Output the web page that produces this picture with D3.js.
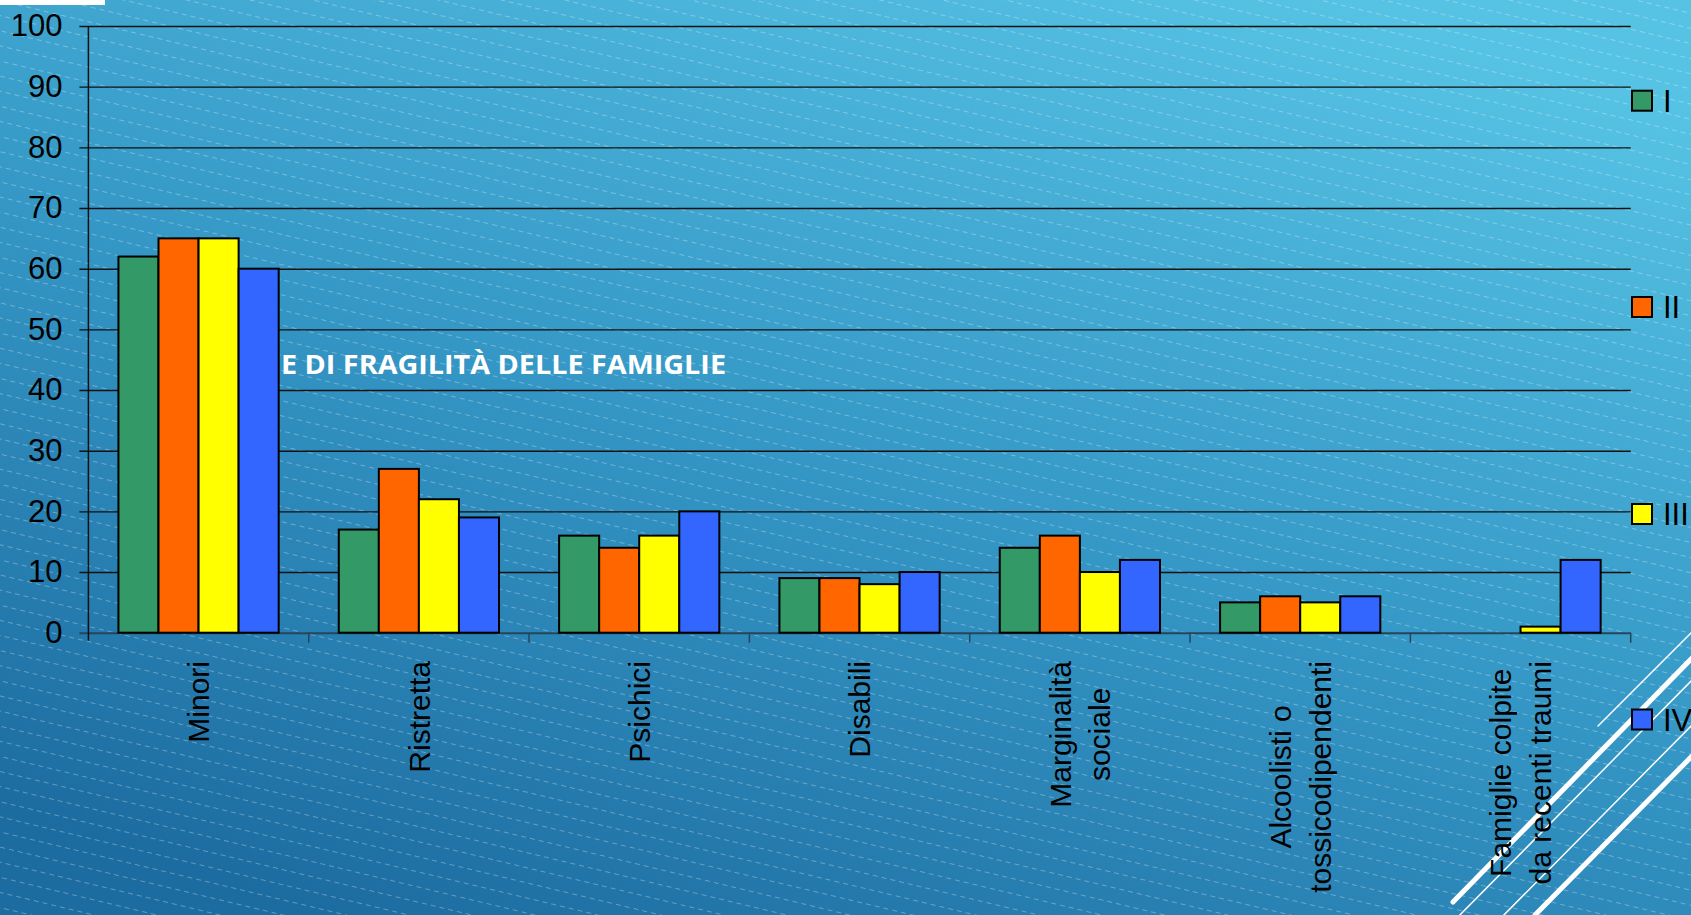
<!DOCTYPE html>
<html><head><meta charset="utf-8">
<script src="https://cdn.jsdelivr.net/npm/d3@7"></script>
<style>html,body{margin:0;padding:0;overflow:hidden;background:#2f8fbf}</style>
</head><body>
<svg id="c" width="1691" height="915"></svg>
<script>
const categories = ["Minori","Ristretta","Psichici","Disabili","Marginalità\nsociale","Alcoolisti o\ntossicodipendenti","Famiglie colpite\nda recenti traumi"];
const seriesNames = ["I","II","III","IV"];
const seriesI   = [62,17,16,9,14,5,0];
const seriesII  = [65,27,14,9,16,6,0];
const seriesIII = [65,22,16,8,10,5,1];
const seriesIV  = [60,19,20,10,12,6,12];
const yTicks = [0,10,20,30,40,50,60,70,80,90,100];
const colors = ["#339966","#FF6600","#FFFF00","#3366FF"];
const titleText = "E DI FRAGILITÀ DELLE FAMIGLIE";

const W = 1691, H = 915;
const svg = d3.select("#c");
const defs = svg.append("defs");
const grad = defs.append("linearGradient").attr("id","bg")
  .attr("x1","0.8").attr("y1","0").attr("x2","0.2").attr("y2","1");
grad.append("stop").attr("offset","0").attr("stop-color","#56c3e4");
grad.append("stop").attr("offset","0.5").attr("stop-color","#3598c6");
grad.append("stop").attr("offset","1").attr("stop-color","#1d6ca1");
const pat = defs.append("pattern").attr("id","dash").attr("patternUnits","userSpaceOnUse")
  .attr("width",9).attr("height",14.7).attr("patternTransform","rotate(13.5)");
pat.append("line").attr("x1",0).attr("y1",0.5).attr("x2",5).attr("y2",0.5)
  .attr("stroke","#ffffff").attr("stroke-opacity",0.3).attr("stroke-width",1);

svg.append("rect").attr("width",W).attr("height",H).attr("fill","url(#bg)");
svg.append("rect").attr("width",W).attr("height",H).attr("fill","url(#dash)");
svg.append("rect").attr("x",0).attr("y",0).attr("width",105).attr("height",5).attr("fill","#ffffff");

// decorative slide lines bottom-right
const deco = [[1453,902,1700,650,5],[1450,925,1700,672,1.5],[1494,925,1700,717,1.5],[1535,915,1700,748,5],[1598,726,1700,624,1.5]];
svg.selectAll("line.deco").data(deco).join("line").attr("class","deco")
  .attr("x1",d=>d[0]).attr("y1",d=>d[1]).attr("x2",d=>d[2]).attr("y2",d=>d[3])
  .attr("stroke","#ffffff").attr("stroke-width",d=>d[4]).attr("stroke-linecap","round");

const x0 = 88.4, x1 = 1630.7, yTop = 26, yBot = 632.7;
const x = d3.scaleBand().domain(categories).range([x0,x1]).paddingInner(0).paddingOuter(0);
const xs = d3.scaleBand().domain(seriesNames).range([0,x.bandwidth()]).paddingInner(0).paddingOuter(0.75);
const y = d3.scaleLinear().domain([0,100]).range([yBot,yTop]);

// title text (behind)
svg.append("text").attr("x",281).attr("y",374).text(titleText)
  .attr("textLength",445).attr("lengthAdjust","spacingAndGlyphs")
  .attr("font-family","'Open Sans', sans-serif").attr("font-weight",700).attr("font-size",27).attr("fill","#ffffff");

// gridlines
const yAxis = d3.axisLeft(y).tickValues(yTicks).tickSize(-(x1 - x0)).tickSizeOuter(0).tickPadding(26);
const gy = svg.append("g").attr("transform",`translate(${x0},0)`).call(yAxis);
gy.select(".domain").remove();
gy.selectAll(".tick line").attr("x1",-9).attr("stroke","#111").attr("stroke-width",1.4)
  .filter(d=>d===0).attr("stroke","#24465c").attr("stroke-width",2);
gy.selectAll(".tick text").attr("font-family","'Liberation Sans', Arial, sans-serif").attr("font-size",31).attr("fill","#000");
svg.append("line").attr("x1",x0).attr("x2",x0).attr("y1",yTop).attr("y2",yBot+8).attr("stroke","#111").attr("stroke-width",1.5);

// x boundary ticks
const bounds = categories.map(c=>x(c)).concat([x1]);
svg.selectAll("line.xt").data(bounds.slice(1)).join("line").attr("class","xt")
  .attr("x1",d=>d).attr("x2",d=>d).attr("y1",yBot).attr("y2",yBot+10)
  .attr("stroke","#24465c").attr("stroke-width",1.5);

// bars
const series = [seriesI,seriesII,seriesIII,seriesIV];
const data = [];
categories.forEach((c,i)=>series.forEach((s,j)=>data.push({c, s:seriesNames[j], v:s[i], col:colors[j]})));
svg.append("g").selectAll("rect").data(data.filter(d=>d.v>0)).join("rect")
  .attr("x",d=>x(d.c)+xs(d.s)).attr("width",xs.bandwidth())
  .attr("y",d=>y(d.v)).attr("height",d=>yBot-y(d.v))
  .attr("fill",d=>d.col).attr("stroke","#000").attr("stroke-width",2);

// x labels
const lab = svg.append("g").attr("font-family","'Liberation Sans', Arial, sans-serif").attr("font-size",30).attr("fill","#000");
categories.forEach(c=>{
  const lines = c.split("\n");
  const g = lab.append("g").attr("transform",`translate(${x(c)+x.bandwidth()/2},661) rotate(-90)`);
  const ts = lines.map((l,i)=>g.append("text").text(l).attr("text-anchor","middle")
     .attr("y",(i-(lines.length-1)/2)*39.5+10.7));
  const maxL = d3.max(ts,t=>t.node().getComputedTextLength());
  ts.forEach(t=>t.attr("x",-maxL/2));
});

// legend
const ly = [100.7,307,514,719.5];
const lg = svg.append("g");
seriesNames.forEach((s,i)=>{
  lg.append("rect").attr("x",1632).attr("y",ly[i]-10).attr("width",20).attr("height",20)
    .attr("fill",colors[i]).attr("stroke","#000").attr("stroke-width",2);
  lg.append("text").attr("x",1663).attr("y",ly[i]+11).text(s)
    .attr("font-family","'Liberation Sans', Arial, sans-serif").attr("font-size",31).attr("fill","#000");
});
</script>
</body></html>
